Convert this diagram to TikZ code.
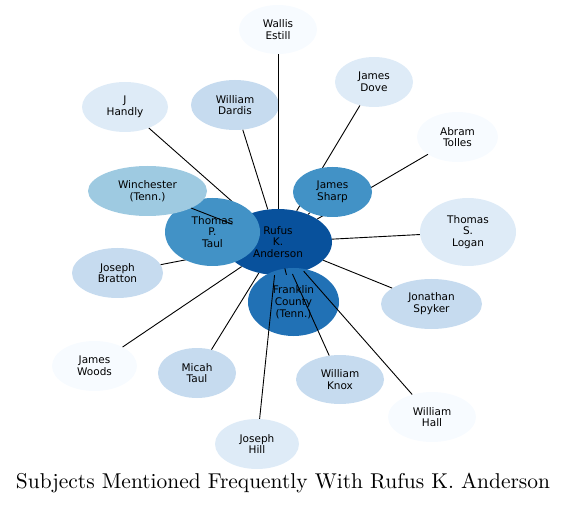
\documentclass[tikz,border=0pt]{standalone}
\usepackage{fontspec}
\usepackage{graphicx}
\usetikzlibrary{shapes.geometric}
\newfontfamily\dejavu{DejaVu Sans}
\definecolor{b1}{HTML}{F7FBFF}
\definecolor{b2}{HTML}{DEEBF7}
\definecolor{b3}{HTML}{C6DBEF}
\definecolor{b4}{HTML}{9ECAE1}
\definecolor{b6}{HTML}{4292C6}
\definecolor{b7}{HTML}{2171B5}
\definecolor{b8}{HTML}{08519C}
\tikzset{
  ent/.style={ellipse, draw=none, inner sep=0pt, align=center, text=black,
    font=\dejavu\fontsize{10.5}{11.8}\selectfont},
  sz/.style n args={2}{minimum width=#1*2pt, minimum height=#2*2pt},
  link/.style={draw=black, line width=0.9pt}
}
\begin{document}
\begin{tikzpicture}[x=1pt,y=-1pt]
\useasboundingbox (0,0) rectangle (568,505);
% centre
\node[ent, sz={54}{33}, fill=b8] (rufus) at (278,242) {Rufus\\K.\\Anderson};
% nodes whose edges pass under later nodes
\node[ent, sz={43}{25}, fill=b2] (handly) at (125,107) {J\\Handly};
\node[ent, sz={45.5}{25}, fill=b3] (bratton) at (117.5,273) {Joseph\\Bratton};
\node[ent, sz={39}{25}, fill=b2] (dove) at (374,82) {James\\Dove};
\node[ent, sz={40.5}{25}, fill=b1] (tolles) at (457.5,137) {Abram\\Tolles};
% hidden edges, with phantom nodes for the overlapping ones
\node[ent, sz={47.5}{34}] (taulghost) at (212.5,232) {};
\node[ent, sz={39.5}{25}] (sharpghost) at (332.5,192) {};
\draw[link] (handly) -- (rufus);
\draw[link] (bratton) -- (rufus);
\draw[link] (dove) -- (rufus);
\draw[link] (tolles) -- (rufus);
\draw[link] (taulghost) -- (rufus);
\draw[link] (sharpghost) -- (rufus);
% overlapping nodes
\node[ent, sz={47.5}{34}, fill=b6] (taul) at (taulghost) {Thomas\\P.\\Taul};
\node[ent, sz={39.5}{25}, fill=b6] (sharp) at (sharpghost) {James\\Sharp};
\node[ent, sz={45.5}{34}, fill=b7] (franklin) at (293.5,302) {Franklin\\County\\(Tenn.)};
\draw[link] (franklin) -- (rufus);
\node[ent, sz={59.5}{25}, fill=b4] (winchester) at (147.5,191) {Winchester\\(Tenn.)};
% outer nodes
\node[ent, sz={39}{24.5}, fill=b1] (wallis) at (278,29.5) {Wallis\\Estill};
\node[ent, sz={44}{25}, fill=b3] (dardis) at (235,105) {William\\Dardis};
\node[ent, sz={48}{34}, fill=b2] (logan) at (468,232) {Thomas\\S.\\Logan};
\node[ent, sz={50.5}{25}, fill=b3] (spyker) at (431.5,304) {Jonathan\\Spyker};
\node[ent, sz={42.5}{25}, fill=b1] (woods) at (94.5,366) {James\\Woods};
\node[ent, sz={39}{25}, fill=b3] (micah) at (197,373) {Micah\\Taul};
\node[ent, sz={42}{25}, fill=b2] (hill) at (257,444) {Joseph\\Hill};
\node[ent, sz={44}{24.5}, fill=b3] (knox) at (340,379.5) {William\\Knox};
\node[ent, sz={44}{25}, fill=b1] (hall) at (432,417) {William\\Hall};
% visible edges
\draw[link] (winchester) -- (rufus);
\draw[link] (wallis) -- (rufus);
\draw[link] (dardis) -- (rufus);
\draw[link] (logan) -- (rufus);
\draw[link] (spyker) -- (rufus);
\draw[link] (woods) -- (rufus);
\draw[link] (micah) -- (rufus);
\draw[link] (hill) -- (rufus);
\draw[link] (knox) -- (rufus);
\draw[link] (hall) -- (rufus);
% title
\node[inner sep=0pt] (title) at (283,483) {\resizebox{534pt}{!}{Subjects Mentioned Frequently With Rufus K. Anderson}};
\end{tikzpicture}
\end{document}
